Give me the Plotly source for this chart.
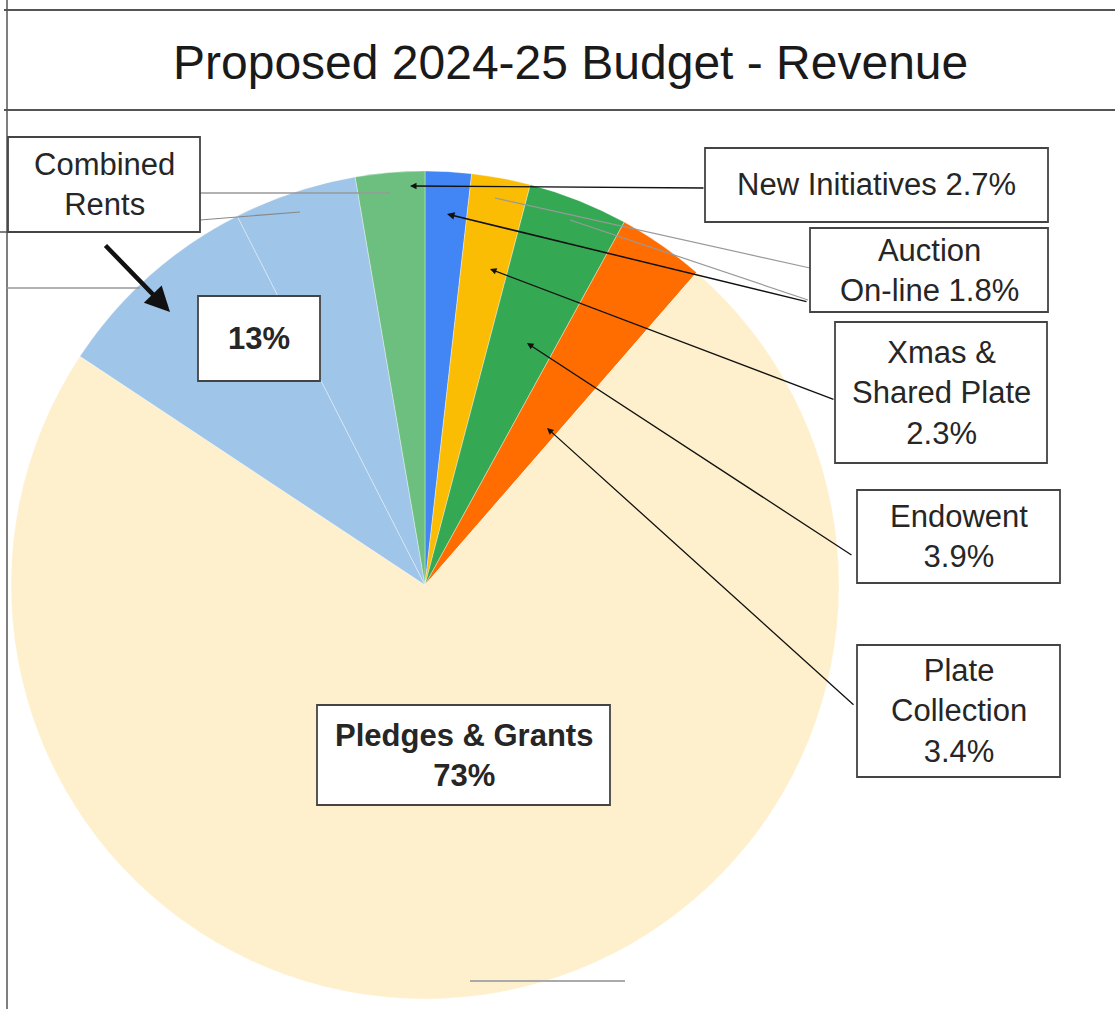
import plotly.graph_objects as go

# ---- data (clockwise from 12 o'clock) ----
labels = ["Auction On-line", "Xmas & Shared Plate", "Endowent", "Plate Collection",
          "Pledges & Grants", "Combined Rents A", "Combined Rents B", "New Initiatives"]
values = [1.8, 2.3, 3.9, 3.4, 73.0, 8.2, 4.8, 2.7]
colors = ["#4285F4", "#FBBC04", "#34A853", "#FF6D01",
          "#FEF0CC", "#9FC5E8", "#9FC5E8", "#6CBF7F"]

title_text = "Proposed 2024-25 Budget - Revenue"

W, H = 1115, 1009
def px(x):
    return x / W
def py(y):
    return 1 - y / H

fig = go.Figure(go.Pie(
    labels=labels, values=values, sort=False, direction="clockwise", rotation=0,
    marker=dict(colors=colors, line=dict(color="rgba(255,255,255,0.6)", width=0.6)),
    textinfo="none", hoverinfo="skip", showlegend=False,
    domain=dict(x=[px(11), px(839)], y=[py(999), py(171)]),
))

FONT = "Liberation Sans, Arial, sans-serif"
shapes = []
annotations = []

# frame lines
for (x0, y0, x1, y1, c, w) in [
    (4, 10, W, 10, "#555", 2),
    (4, 110, W, 110, "#555", 2),
    (7, 0, 7, H, "#555", 1.5),
    (0, 232, 8, 232, "#555", 1.5),
    (7, 288, 140, 288, "#999", 1.5),
    (200, 193, 390, 193, "#999", 1.5),
    (200, 220, 300, 212, "#888", 1.2),
    (470, 981, 625, 981, "#aaa", 2),
    (495, 198, 810, 268, "#999", 1.2),
    (570, 220, 808, 300, "#999", 1.2),
]:
    shapes.append(dict(type="line", xref="paper", yref="paper",
                       x0=px(x0), y0=py(y0), x1=px(x1), y1=py(y1),
                       line=dict(color=c, width=w)))

# label boxes: (x0, y0, x1, y1, text)
boxes = [
    (705, 148, 1048, 222, "New Initiatives 2.7%"),
    (810, 228, 1048, 312, "Auction<br>On-line 1.8%"),
    (835, 322, 1047, 463, "Xmas &<br>Shared Plate<br>2.3%"),
    (857, 490, 1060, 583, "Endowent<br>3.9%"),
    (857, 645, 1060, 777, "Plate<br>Collection<br>3.4%"),
    (8, 137, 200, 232, "Combined<br>Rents"),
    (198, 296, 320, 381, "<b>13%</b>"),
    (317, 705, 610, 805, "<b>Pledges & Grants<br>73%</b>"),
]
for (x0, y0, x1, y1, t) in boxes:
    shapes.append(dict(type="rect", xref="paper", yref="paper",
                       x0=px(x0), y0=py(y0), x1=px(x1), y1=py(y1),
                       line=dict(color="#444", width=1.8), fillcolor="white"))
    annotations.append(dict(xref="paper", yref="paper", x=px((x0 + x1) / 2), y=py((y0 + y1) / 2),
                            text=t, showarrow=False, xanchor="center", yanchor="middle",
                            font=dict(family=FONT, size=31, color="#262626"),
                            align="center"))

# arrows: (tail_x, tail_y, head_x, head_y, width, size)
arrows = [
    (705, 188, 410, 186, 1.3, 1.0),
    (808, 302, 447, 214, 1.5, 1.0),
    (835, 400, 490, 269, 1.3, 1.0),
    (853, 556, 527, 343, 1.3, 1.0),
    (855, 706, 547, 428, 1.3, 1.0),
    (104, 244, 170, 312, 4.5, 1.1),
]
for (tx, ty, hx, hy, w, s) in arrows:
    annotations.append(dict(xref="paper", yref="paper", x=px(hx), y=py(hy),
                            ax=tx - hx, ay=ty - hy, axref="pixel", ayref="pixel",
                            text="", showarrow=True, arrowhead=2, arrowsize=s,
                            arrowwidth=w, arrowcolor="#111"))

# title
annotations.append(dict(xref="paper", yref="paper", x=px(570), y=py(63), text=title_text,
                        showarrow=False, xanchor="center", yanchor="middle",
                        font=dict(family=FONT, size=48, color="#1a1a1a")))

fig.update_layout(width=W, height=H, margin=dict(l=0, r=0, t=0, b=0),
                  paper_bgcolor="white", plot_bgcolor="white",
                  shapes=shapes, annotations=annotations)

fig.write_html("out.html", config={"displayModeBar": False},
               post_script="document.body.style.margin='0';")
